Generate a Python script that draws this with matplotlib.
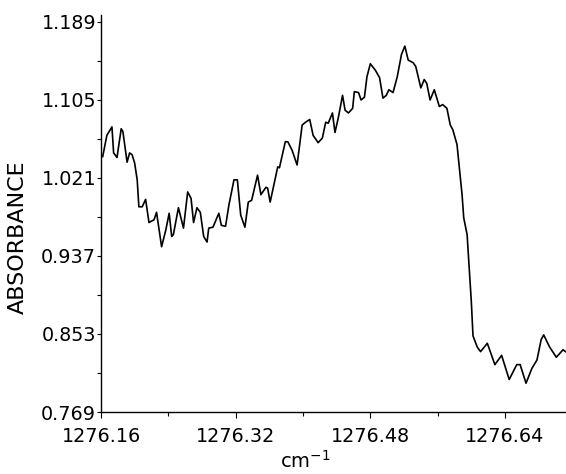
import numpy as np
import matplotlib
matplotlib.use('Agg')
import matplotlib.pyplot as plt
from matplotlib.ticker import FixedLocator

#wavenumber (cm-1) and absorbance
wavenumber = [1276.162, 1276.167, 1276.173, 1276.175, 1276.179, 1276.184, 1276.186, 1276.191,
              1276.194, 1276.197, 1276.200, 1276.203, 1276.205, 1276.209, 1276.213, 1276.217,
              1276.223, 1276.226, 1276.232, 1276.237, 1276.241, 1276.244, 1276.246, 1276.252,
              1276.258, 1276.263, 1276.267, 1276.270, 1276.274, 1276.278, 1276.282, 1276.286,
              1276.288, 1276.293, 1276.300, 1276.303, 1276.308, 1276.312, 1276.318, 1276.322,
              1276.326, 1276.331, 1276.335, 1276.339, 1276.346, 1276.350, 1276.356, 1276.358,
              1276.361, 1276.370, 1276.372, 1276.379, 1276.382, 1276.387, 1276.393, 1276.399,
              1276.403, 1276.408, 1276.412, 1276.418, 1276.423, 1276.427, 1276.430, 1276.435,
              1276.438, 1276.442, 1276.447, 1276.450, 1276.454, 1276.459, 1276.461, 1276.466,
              1276.469, 1276.473, 1276.476, 1276.480, 1276.486, 1276.491, 1276.495, 1276.499,
              1276.502, 1276.507, 1276.512, 1276.517, 1276.521, 1276.525, 1276.531, 1276.534,
              1276.540, 1276.544, 1276.547, 1276.551, 1276.556, 1276.562, 1276.566, 1276.571,
              1276.575, 1276.578, 1276.583, 1276.585, 1276.589, 1276.591, 1276.595, 1276.597,
              1276.600, 1276.602, 1276.607, 1276.611, 1276.619, 1276.628, 1276.636, 1276.645,
              1276.654, 1276.658, 1276.665, 1276.672, 1276.678, 1276.683, 1276.686, 1276.693,
              1276.701, 1276.709, 1276.712]
absorbance = [1.044, 1.067, 1.076, 1.048, 1.043, 1.074, 1.071, 1.038,
              1.048, 1.046, 1.037, 1.019, 0.990, 0.990, 0.998, 0.973,
              0.976, 0.984, 0.947, 0.965, 0.983, 0.958, 0.960, 0.989,
              0.967, 1.006, 0.999, 0.973, 0.989, 0.984, 0.958, 0.952,
              0.967, 0.968, 0.983, 0.970, 0.969, 0.992, 1.019, 1.019,
              0.981, 0.968, 0.995, 0.997, 1.024, 1.003, 1.011, 1.010,
              0.995, 1.033, 1.032, 1.060, 1.060, 1.051, 1.035, 1.078,
              1.081, 1.084, 1.067, 1.059, 1.064, 1.081, 1.080, 1.091,
              1.070, 1.086, 1.110, 1.094, 1.091, 1.096, 1.114, 1.113,
              1.105, 1.108, 1.130, 1.144, 1.137, 1.129, 1.107, 1.110,
              1.116, 1.113, 1.130, 1.154, 1.163, 1.148, 1.145, 1.141,
              1.118, 1.127, 1.123, 1.105, 1.116, 1.098, 1.100, 1.096,
              1.078, 1.073, 1.057, 1.039, 1.003, 0.978, 0.960, 0.931,
              0.888, 0.851, 0.839, 0.834, 0.843, 0.820, 0.830, 0.804,
              0.820, 0.820, 0.800, 0.816, 0.825, 0.847, 0.852, 0.839,
              0.828, 0.836, 0.834]

xticks = [1276.16, 1276.32, 1276.48, 1276.64]
yticks = [0.769, 0.853, 0.937, 1.021, 1.105, 1.189]

plt.rcParams['font.family'] = 'DejaVu Sans'

fig = plt.figure(figsize=(5.66, 4.74), dpi=100)
ax = fig.add_axes([101/566, 62/474, 465/566, 397/474])

ax.plot(wavenumber, absorbance, color='black', lw=1.2)

ax.set_xlim(1276.16, 1276.7125)
ax.set_ylim(0.769, 1.1965)

ax.xaxis.set_major_locator(FixedLocator(xticks))
ax.xaxis.set_minor_locator(FixedLocator([1276.24, 1276.40, 1276.56]))
ax.yaxis.set_major_locator(FixedLocator(yticks))
ax.yaxis.set_minor_locator(FixedLocator([0.811, 0.895, 0.979, 1.063, 1.147]))
ax.set_xticklabels(['%.2f' % t for t in xticks])
ax.set_yticklabels(['%.3f' % t for t in yticks])

ax.tick_params(axis='x', which='major', direction='out', length=4.5, width=0.8, pad=6.5, labelsize=13.8)
ax.tick_params(axis='x', which='minor', direction='out', length=3, width=0.8)
ax.tick_params(axis='y', which='major', direction='out', length=3, width=0.8, pad=0.5, labelsize=13.8)
ax.tick_params(axis='y', which='minor', direction='out', length=3, width=0.8)

for side in ['top', 'right']:
    ax.spines[side].set_visible(False)
for side in ['left', 'bottom']:
    ax.spines[side].set_linewidth(1.0)

ax.set_ylabel('ABSORBANCE', fontsize=16)
ax.yaxis.set_label_coords(-0.158, 0.44)
ax.set_xlabel('cm$^{-1}$', fontsize=14)
ax.xaxis.set_label_coords(0.44, -0.095)

fig.savefig('out.png', dpi=100)
